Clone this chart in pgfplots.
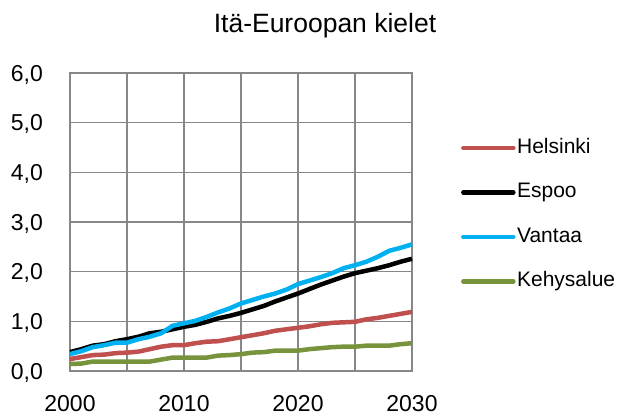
\documentclass[border=0pt]{standalone}
\usepackage{fontspec}
\setmainfont{Liberation Sans}
\usepackage{pgfplots}
\pgfplotsset{compat=1.18}

\definecolor{hki}{HTML}{C0504D}
\definecolor{van}{HTML}{00B0F0}
\definecolor{keh}{HTML}{77933C}
\definecolor{gridc}{HTML}{878787}

\pgfplotstableread{
year hki esp van keh
2000 0.24 0.38 0.34 0.14
2001 0.28 0.44 0.40 0.15
2002 0.32 0.51 0.48 0.19
2003 0.33 0.54 0.52 0.19
2004 0.36 0.60 0.57 0.19
2005 0.37 0.64 0.57 0.19
2006 0.39 0.69 0.64 0.19
2007 0.44 0.76 0.69 0.19
2008 0.49 0.79 0.76 0.23
2009 0.52 0.84 0.91 0.27
2010 0.52 0.89 0.96 0.27
2011 0.56 0.93 1.01 0.27
2012 0.59 0.99 1.09 0.27
2013 0.60 1.06 1.18 0.31
2014 0.64 1.11 1.26 0.32
2015 0.68 1.17 1.36 0.34
2016 0.72 1.24 1.43 0.37
2017 0.76 1.31 1.50 0.38
2018 0.81 1.40 1.56 0.41
2019 0.84 1.48 1.64 0.41
2020 0.87 1.56 1.75 0.41
2021 0.90 1.65 1.82 0.44
2022 0.94 1.74 1.89 0.46
2023 0.97 1.82 1.97 0.48
2024 0.98 1.90 2.07 0.49
2025 0.99 1.97 2.13 0.49
2026 1.04 2.02 2.20 0.51
2027 1.07 2.07 2.30 0.51
2028 1.11 2.13 2.42 0.51
2029 1.15 2.20 2.48 0.54
2030 1.19 2.26 2.55 0.56
}\datatable

\begin{document}
\begin{tikzpicture}
\path[use as bounding box] (0,0) rectangle (618bp,418bp);
\node[anchor=base, font=\fontsize{26.5bp}{30bp}\selectfont, inner sep=0pt]
  at (325bp,385bp) {Itä-Euroopan kielet};
\begin{axis}[
    at={(70bp,47bp)}, anchor=south west,
    scale only axis,
    width=342bp, height=298bp,
    xmin=2000, xmax=2030,
    ymin=0, ymax=6,
    xtick={2000,2010,2020,2030},
    minor xtick={2005,2015,2025},
    ytick={0,1,...,6},
    grid=both,
    major tick length=0pt, minor tick length=0pt,
    major grid style={gridc, line width=1.3bp},
    minor grid style={gridc, line width=1.3bp},
    axis line style={gridc, line width=1.3bp},
    clip=false,
    tick label style={font=\fontsize{23bp}{27bp}\selectfont},
    /pgf/number format/assume math mode=true,
    xticklabel style={/pgf/number format/set thousands separator={}, inner sep=0pt, anchor=north, yshift=-24bp},
    yticklabel style={/pgf/number format/.cd, use comma, fixed, fixed zerofill, precision=1, /tikz/.cd, inner sep=0pt, anchor=base east, xshift=-27bp, yshift=-8bp},
    legend cell align=left,
    legend image code/.code={\draw[#1, line cap=round] (0bp,0bp) -- (50bp,0bp);},
    legend style={at={(axis description cs:1.143,0.525)}, anchor=west,
        draw=none, fill=none, inner sep=0pt, row sep=20.5bp,
        font=\fontsize{21bp}{25bp}\selectfont,
        nodes={inner sep=1.5bp, text height=16bp, text depth=5bp}},
    every axis plot/.append style={line width=4.5bp, line join=round},
]
\addplot[hki] table[x=year, y=hki] {\datatable};
\addplot[black] table[x=year, y=esp] {\datatable};
\addplot[van] table[x=year, y=van] {\datatable};
\addplot[keh] table[x=year, y=keh] {\datatable};
\legend{Helsinki, Espoo, Vantaa, Kehysalue}
\end{axis}
\end{tikzpicture}
\end{document}
